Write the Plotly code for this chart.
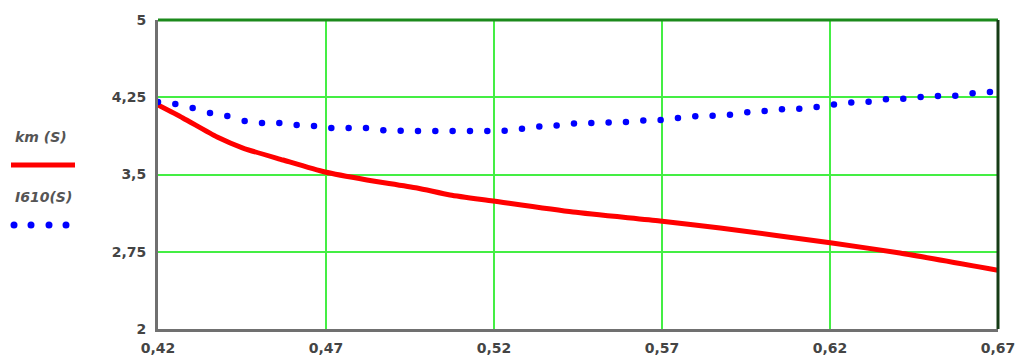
import numpy as np
import plotly.graph_objects as go

# ---- data ----
s_blue = np.linspace(0.42, 0.6676, 49)
l610 = [4.204, 4.184, 4.146, 4.097, 4.068, 4.019, 4.000, 4.000, 3.981, 3.971,
        3.951, 3.951, 3.951, 3.930, 3.925, 3.922, 3.922, 3.922, 3.922, 3.922,
        3.925, 3.945, 3.965, 3.975, 3.995, 4.000, 4.005, 4.010, 4.025, 4.030,
        4.049, 4.065, 4.070, 4.080, 4.105, 4.117, 4.134, 4.138, 4.155, 4.180,
        4.200, 4.206, 4.230, 4.235, 4.252, 4.262, 4.265, 4.290, 4.301]

s_red = [0.42, 0.4274, 0.4376, 0.4453, 0.4572, 0.4697, 0.4822, 0.4971, 0.5069,
         0.5197, 0.5435, 0.5694, 0.5873, 0.6206, 0.6408, 0.67]
km = [4.175, 4.049, 3.864, 3.757, 3.641, 3.524, 3.447, 3.369, 3.301,
      3.243, 3.136, 3.049, 2.981, 2.835, 2.738, 2.570]

x_ticks = [0.42, 0.47, 0.52, 0.57, 0.62, 0.67]
x_ticktext = ["0,42", "0,47", "0,52", "0,57", "0,62", "0,67"]
y_ticks = [2, 2.75, 3.5, 4.25, 5]
y_ticktext = ["2", "2,75", "3,5", "4,25", "5"]

legend_labels = ["km (S)", "I610(S)"]

# ---- figure ----
# the page body has an 8px margin, so the figure is drawn 8px right/down
OFF = 8
W, H = 1026 - OFF, 361 - OFF
L, T = 158 - OFF, 20 - OFF
pw, ph = 840, 309
R, B = W - L - pw, H - T - ph


def px(x):
    # absolute screen x -> paper
    return (x - OFF - L) / pw


def py(y):
    # absolute screen y -> paper
    return (T + ph - (y - OFF)) / ph


fig = go.Figure()
fig.add_trace(go.Scatter(x=s_red, y=km, mode="lines",
                         line=dict(color="#ff0000", width=5, shape="spline",
                                   smoothing=0.6),
                         showlegend=False))
fig.add_trace(go.Scatter(x=s_blue, y=l610, mode="markers",
                         marker=dict(color="#0000ff", size=6.5),
                         showlegend=False))

tickfont = dict(family="DejaVu Sans", size=14, color="#444444", weight="bold")
fig.update_xaxes(range=[0.42, 0.67], tickvals=x_ticks, ticktext=x_ticktext,
                 showgrid=True, gridcolor="#44ee44", gridwidth=2,
                 showline=True, linecolor="#707070", linewidth=3,
                 zeroline=False, ticks="", tickfont=tickfont, automargin=False,
                 ticklabelstandoff=4)
fig.update_yaxes(range=[2, 5], tickvals=y_ticks, ticktext=y_ticktext,
                 showgrid=True, gridcolor="#44ee44", gridwidth=2,
                 showline=True, linecolor="#707070", linewidth=3,
                 zeroline=False, ticks="", tickfont=tickfont, ticklabelstandoff=6,
                 automargin=False)

shapes = [
    dict(type="line", xref="paper", yref="paper", x0=0, x1=1, y0=1, y1=1,
         line=dict(color="#1c8a1c", width=3)),
    dict(type="line", xref="paper", yref="paper", x0=1, x1=1, y0=0, y1=1,
         line=dict(color="#163c16", width=3)),
    # legend samples
    dict(type="line", xref="paper", yref="paper", x0=px(11), x1=px(75),
         y0=py(165), y1=py(165), line=dict(color="#ff0000", width=5)),
]
r = 3.5
for cx in [14, 31, 49, 66]:
    shapes.append(dict(type="circle", xref="paper", yref="paper",
                       x0=px(cx - r), x1=px(cx + r), y0=py(225 + r), y1=py(225 - r),
                       fillcolor="#0000ff", line=dict(width=0)))

legfont = dict(family="DejaVu Sans", size=14, color="#555555", weight="bold")
annotations = [
    dict(xref="paper", yref="paper", x=px(13), y=py(137), xanchor="left",
         yanchor="middle", showarrow=False, text="<i>" + legend_labels[0] + "</i>",
         font=legfont),
    dict(xref="paper", yref="paper", x=px(13), y=py(197), xanchor="left",
         yanchor="middle", showarrow=False, text="<i>" + legend_labels[1] + "</i>",
         font=legfont),
]

fig.update_layout(width=W, height=H, margin=dict(l=L, r=R, t=T, b=B),
                  paper_bgcolor="white", plot_bgcolor="white",
                  shapes=shapes, annotations=annotations, showlegend=False)

fig.write_html("out.html")
